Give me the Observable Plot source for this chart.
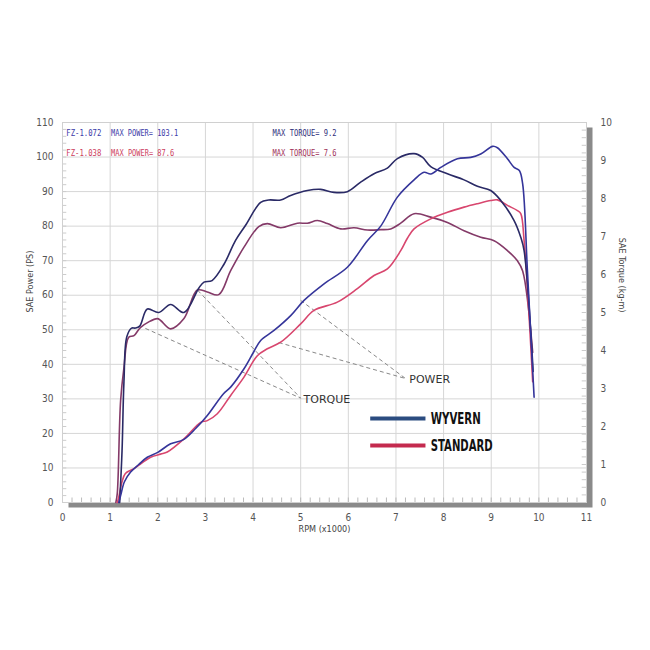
<!DOCTYPE html>
<html>
<head>
<meta charset="utf-8">
<script src="https://cdn.jsdelivr.net/npm/d3@7"></script>
<script src="https://cdn.jsdelivr.net/npm/@observablehq/plot@0.6"></script>
<style>
  html, body { margin: 0; padding: 0; background: #fff; }
  #chart svg { display: block; }
</style>
</head>
<body>
<div id="chart"></div>
<script>
// ---- Data (rpm x1000, SAE power PS, SAE torque kg-m) ----
const wyvernPower = [
  [1.18,0],[1.22,2],[1.30,6],[1.43,8.8],[1.6,11],[1.78,13.1],[2.0,14.5],[2.27,17],[2.54,18.2],[2.8,21.5],
  [3.04,25.2],[3.38,31.5],[3.53,33.4],[3.81,38.7],[4.01,43.5],[4.16,46.9],[4.44,49.8],[4.79,54.1],[5.07,58.5],
  [5.49,63.3],[5.98,68.1],[6.40,75.8],[6.68,80],[7.03,88.4],[7.38,93.4],[7.59,95.6],[7.73,95.1],[7.94,97],
  [8.29,99.5],[8.57,99.9],[8.78,100.9],[9.03,103.1],[9.13,102.7],[9.34,99.5],[9.48,97],[9.59,96.1],[9.66,92.2],
  [9.76,67],[9.90,30.5]
];
const wyvernTorque = [
  [1.20,0],[1.25,1.36],[1.29,3.18],[1.35,4.36],[1.45,4.59],[1.53,4.59],[1.62,4.64],[1.78,5.09],[2.02,5.0],
  [2.27,5.21],[2.55,5.0],[2.86,5.64],[2.97,5.8],[3.14,5.84],[3.39,6.27],[3.63,6.89],[3.84,7.29],[4.16,7.9],
  [4.33,7.96],[4.58,7.96],[4.79,8.08],[5.14,8.21],[5.42,8.24],[5.70,8.16],[5.98,8.18],[6.26,8.43],[6.54,8.65],
  [6.82,8.8],[7.03,9.05],[7.38,9.18],[7.56,9.08],[7.73,8.84],[8.08,8.65],[8.43,8.49],[8.71,8.32],[8.99,8.21],
  [9.20,7.95],[9.48,7.42],[9.62,6.98],[9.69,6.63],[9.88,3.45]
];
const standardPower = [
  [1.15,0],[1.18,1.5],[1.25,6],[1.32,8.4],[1.50,9.8],[1.85,13.1],[2.06,14],[2.20,14.6],[2.55,18.4],[2.90,23.2],
  [3.04,23.7],[3.25,25.7],[3.53,31],[3.81,36.3],[4.09,42.5],[4.30,44.5],[4.58,46.4],[5.0,51.7],[5.28,55.6],
  [5.77,58],[6.19,61.9],[6.54,65.7],[6.82,67.6],[7.1,72.9],[7.24,76.5],[7.38,79.2],[7.73,82.1],[8.08,84],
  [8.43,85.5],[8.71,86.5],[8.99,87.4],[9.13,87.6],[9.34,86],[9.55,84.5],[9.62,83.6],[9.69,75.8],[9.87,35]
];
const standardTorque = [
  [1.12,0],[1.15,0.24],[1.22,2.68],[1.29,3.55],[1.39,4.35],[1.50,4.39],[1.64,4.61],[1.99,4.84],[2.06,4.79],
  [2.27,4.57],[2.55,4.84],[2.83,5.59],[3.04,5.54],[3.28,5.47],[3.53,6.1],[3.81,6.72],[4.12,7.26],[4.30,7.34],
  [4.58,7.23],[4.93,7.35],[5.14,7.35],[5.35,7.42],[5.56,7.34],[5.84,7.2],[6.12,7.23],[6.40,7.17],[6.68,7.18],
  [6.89,7.2],[7.1,7.35],[7.38,7.6],[7.73,7.51],[8.08,7.37],[8.43,7.15],[8.78,6.98],[9.06,6.89],[9.34,6.63],
  [9.55,6.36],[9.66,6.09],[9.87,3.95]
];

const rpmTicks = d3.range(0, 12);
const powerTicks = d3.range(0, 111, 10);
const torqueTicks = d3.range(0, 11);
const torqueToPS = 11; // right axis 0..10 kg-m spans same height as 0..110 PS

const headerModels = ["FZ-1.072", "FZ-1.038"];
const headerPower = ["MAX POWER= 103.1", "MAX POWER= 87.6"];
const headerTorque = ["MAX TORQUE= 9.2", "MAX TORQUE= 7.6"];
const legendNames = ["WYVERN", "STANDARD"];

// leader lines: [x1, y1, x2, y2] in rpm / PS
const powerLeaders = [[5.0, 58.5, 7.2, 35.9], [4.54, 46.3, 7.2, 35.9]];
const torqueLeaders = [[1.74, 50.4, 5.0, 30.2], [2.84, 61.4, 5.0, 30.2]];

const narrow = "'Liberation Sans Narrow', 'DejaVu Sans Condensed', 'Arial Narrow', sans-serif";
const blueP = "#35359a", blueT = "#2a2a66";
const redP = "#d8466e", redT = "#843a68";

const pw = d => ({x: d[0], y: d[1]});
const tq = d => ({x: d[0], y: d[1] * torqueToPS});
const rowY = [106.8, 101];

const chart = Plot.plot({
  width: 650,
  height: 650,
  marginLeft: 62,
  marginRight: 64,
  marginTop: 122,
  marginBottom: 148,
  style: {fontFamily: narrow, fontSize: "10px", color: "#555", background: "#fff"},
  x: {domain: [0, 11], label: null},
  y: {domain: [0, 110], label: null},
  marks: [
    // shadow frame
    Plot.frame({fill: "#8a8a8a", dx: 6, dy: 5}),
    Plot.frame({fill: "#fff"}),
    Plot.gridX(rpmTicks, {stroke: "#d6d6d6", strokeOpacity: 1}),
    Plot.gridY(powerTicks, {stroke: "#d6d6d6", strokeOpacity: 1}),
    // minor ticks
    Plot.ruleX(d3.range(0, 11.01, 0.2), {y1: 0, y2: 1.3, stroke: "#bbb"}),
    Plot.ruleY(d3.range(0, 110.1, 2), {x1: 0, x2: 0.09, stroke: "#ccc"}),
    Plot.ruleY(d3.range(0, 110.1, 2.2), {x1: 10.91, x2: 11, stroke: "#ccc"}),
    Plot.frame({stroke: "#d0d0d0"}),
    Plot.axisX(rpmTicks, {tickSize: 0, tickPadding: 11, fontSize: 10, fill: "#555"}),
    Plot.axisY(powerTicks, {anchor: "left", tickSize: 0, tickPadding: 9, fontSize: 10, fill: "#555"}),
    Plot.axisY(torqueTicks.map(t => t * torqueToPS), {anchor: "right", tickSize: 0, tickPadding: 14, fontSize: 10, fill: "#555", tickFormat: d => Math.round(d / torqueToPS)}),
    // axis titles
    Plot.text(["SAE Power (PS)"], {frameAnchor: "left", dx: -32, rotate: -90, fontSize: 9, fill: "#444"}),
    Plot.text(["SAE Torque (kg-m)"], {frameAnchor: "right", dx: 35, rotate: 90, fontSize: 9, fill: "#444"}),
    Plot.text(["RPM (x1000)"], {frameAnchor: "bottom", dy: 29, fontSize: 9, fill: "#444"}),
    // leader lines
    Plot.link(powerLeaders, {x1: d => d[0], y1: d => d[1], x2: d => d[2], y2: d => d[3], stroke: "#888", strokeDasharray: "4,3", strokeWidth: 1}),
    Plot.link(torqueLeaders, {x1: d => d[0], y1: d => d[1], x2: d => d[2], y2: d => d[3], stroke: "#888", strokeDasharray: "4,3", strokeWidth: 1}),
    Plot.text(["POWER"], {x: 7.28, y: 35.6, textAnchor: "start", fontFamily: "'DejaVu Sans', sans-serif", fontSize: 11, fill: "#333"}),
    Plot.text(["TORQUE"], {x: 5.06, y: 29.8, textAnchor: "start", fontFamily: "'DejaVu Sans', sans-serif", fontSize: 11, fill: "#333"}),
    // curves
    Plot.line(standardTorque.map(tq), {x: "x", y: "y", stroke: redT, strokeWidth: 1.6, curve: "catmull-rom"}),
    Plot.line(standardPower.map(pw), {x: "x", y: "y", stroke: redP, strokeWidth: 1.6, curve: "catmull-rom"}),
    Plot.line(wyvernTorque.map(tq), {x: "x", y: "y", stroke: blueT, strokeWidth: 1.6, curve: "catmull-rom"}),
    Plot.line(wyvernPower.map(pw), {x: "x", y: "y", stroke: blueP, strokeWidth: 1.6, curve: "catmull-rom"}),
    // header text
    Plot.text(headerModels, {x: 0.08, y: (d, i) => rowY[i], textAnchor: "start", fill: (d, i) => ["#3a3aa8", "#cc3d5c"][i], fontSize: 9, fontFamily: "'DejaVu Sans Mono', monospace"}),
    Plot.text(headerPower, {x: 1.02, y: (d, i) => rowY[i], textAnchor: "start", fill: (d, i) => ["#3a3aa8", "#cc3d5c"][i], fontSize: 9, fontFamily: "'DejaVu Sans Mono', monospace"}),
    Plot.text(headerTorque, {x: 4.41, y: (d, i) => rowY[i], textAnchor: "start", fill: (d, i) => ["#2e2e7a", "#a03058"][i], fontSize: 9, fontFamily: "'DejaVu Sans Mono', monospace"}),
    // legend
    Plot.ruleY(legendNames, {x1: 6.47, x2: 7.63, y: (d, i) => [24.3, 16.5][i], stroke: (d, i) => ["#2b4c80", "#c42a4e"][i], strokeWidth: 4}),
    Plot.text(legendNames, {x: 7.73, y: (d, i) => [24.3, 16.5][i], textAnchor: "start", fontSize: 16, fontWeight: "900", fill: "#111", fontFamily: "'DejaVu Sans', sans-serif"})
  ]
});
document.getElementById("chart").appendChild(chart);

// condense narrow-set texts to the widths they occupy in the reference
const squeeze = {
  "FZ-1.072": 35, "FZ-1.038": 35,
  "MAX POWER= 103.1": 67, "MAX POWER= 87.6": 63,
  "MAX TORQUE= 9.2": 64, "MAX TORQUE= 7.6": 64,
  "WYVERN": 50, "STANDARD": 62
};
d3.select(chart).selectAll("text").each(function() {
  const t = this.textContent;
  if (squeeze[t] && this.children.length === 0) {
    this.setAttribute("textLength", squeeze[t]);
    this.setAttribute("lengthAdjust", "spacingAndGlyphs");
  }
});
</script>
</body>
</html>
